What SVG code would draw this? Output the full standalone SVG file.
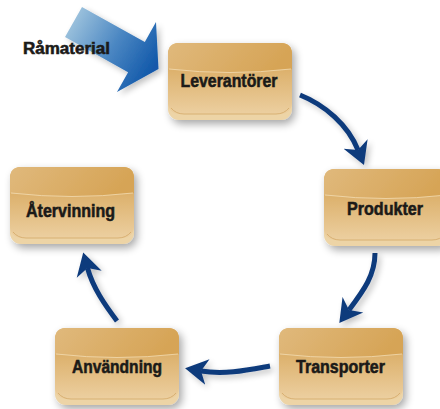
<svg xmlns="http://www.w3.org/2000/svg" width="440" height="409" viewBox="0 0 440 409">
<defs>
<style>
.lbl{font-family:"Liberation Sans","Arial",sans-serif;font-weight:bold;fill:#1b1a18;stroke:#1b1a18;stroke-width:0.55;text-anchor:middle}
.conn{fill:none;stroke:#0f3a7c;stroke-width:5;stroke-linecap:butt}
.rim{fill:#edd4a6}
.face{fill:url(#faceG)}
.gloss{fill:url(#glossG)}
.wave{fill:none;stroke:#f2dcb2;stroke-width:0.8}
.edge{fill:none;stroke:#d3a867;stroke-width:0.8}
</style>
<linearGradient id="faceG" x1="0" y1="0" x2="0" y2="1">
<stop offset="0" stop-color="#d9aa62"/>
<stop offset="0.4" stop-color="#ddb26e"/>
<stop offset="1" stop-color="#eccfa0"/>
</linearGradient>
<linearGradient id="glossG" x1="0" y1="0" x2="1" y2="0.2">
<stop offset="0" stop-color="#e0b97c"/>
<stop offset="1" stop-color="#d6a456"/>
</linearGradient>
<linearGradient id="blueG" gradientUnits="userSpaceOnUse" x1="70" y1="15" x2="155" y2="65">
<stop offset="0" stop-color="#a3c7df"/>
<stop offset="0.55" stop-color="#4a86c2"/>
<stop offset="1" stop-color="#1259aa"/>
</linearGradient>
<filter id="sh" x="-30%" y="-30%" width="160%" height="170%">
<feGaussianBlur in="SourceAlpha" stdDeviation="4"/>
<feOffset dx="3" dy="4" result="b"/>
<feComponentTransfer><feFuncA type="linear" slope="0.35"/></feComponentTransfer>
<feMerge><feMergeNode/><feMergeNode in="SourceGraphic"/></feMerge>
</filter>
<filter id="shA" x="-30%" y="-30%" width="160%" height="160%">
<feGaussianBlur in="SourceAlpha" stdDeviation="3"/>
<feOffset dx="3" dy="3" result="b"/>
<feComponentTransfer><feFuncA type="linear" slope="0.25"/></feComponentTransfer>
<feMerge><feMergeNode/><feMergeNode in="SourceGraphic"/></feMerge>
</filter>
<marker id="ah" markerUnits="userSpaceOnUse" markerWidth="24" markerHeight="28" viewBox="0 -13 22 26" refX="6" refY="0" orient="auto">
<path d="M0,-12 L21,0 L0,12 L6,0 Z" fill="#0f3a7c"/>
</marker>
<g id="box">
<rect class="rim" x="0" y="0" width="124" height="77" rx="11"/>
<rect class="face" x="0" y="0" width="124" height="71" rx="11"/>
<path class="edge" d="M3,65 Q8,71 16,71 L108,71 Q116,71 121,65"/>
<path class="gloss" d="M11,0 L113,0 Q124,0 124,11 L124,26 Q62,33 0,26 L0,11 Q0,0 11,0 Z"/>
<path class="wave" d="M1,26 Q62,33 123,26"/>
</g>
</defs>
<rect width="440" height="409" fill="#ffffff"/>

<g id="input-arrow" filter="url(#shA)">
<polygon points="82,7 144.8,42 156,22 158.5,69 117,92 128.1,72.2 65,37" fill="url(#blueG)"/>
</g>
<text class="lbl" x="66.5" y="53.5" font-size="16" textLength="87" lengthAdjust="spacingAndGlyphs">Råmaterial</text>

<g id="connectors" filter="url(#shA)">
<path class="conn" d="M300,95 C325,105 348,125 358,150" marker-end="url(#ah)"/>
<path class="conn" d="M375,253 C375,275 364,290 349,310" marker-end="url(#ah)"/>
<path class="conn" d="M270,366 C248,370 225,375 201,371" marker-end="url(#ah)"/>
<path class="conn" d="M117,321 C105,305 93,288 87.5,268" marker-end="url(#ah)"/>
</g>

<g id="leverantorer">
<g filter="url(#sh)"><use href="#box" transform="translate(168,43)"/></g>
<text class="lbl" x="229" y="87" font-size="18" textLength="97" lengthAdjust="spacingAndGlyphs">Leverantörer</text>
</g>
<g id="produkter">
<g filter="url(#sh)"><use href="#box" transform="translate(324,169)"/></g>
<text class="lbl" x="385" y="215" font-size="18" textLength="76" lengthAdjust="spacingAndGlyphs">Produkter</text>
</g>
<g id="transporter">
<g filter="url(#sh)"><use href="#box" transform="translate(279,328)"/></g>
<text class="lbl" x="340.5" y="373" font-size="18" textLength="89" lengthAdjust="spacingAndGlyphs">Transporter</text>
</g>
<g id="anvandning">
<g filter="url(#sh)"><use href="#box" transform="translate(55,328)"/></g>
<text class="lbl" x="117" y="373" font-size="18" textLength="90" lengthAdjust="spacingAndGlyphs">Användning</text>
</g>
<g id="atervinning">
<g filter="url(#sh)"><use href="#box" transform="translate(10,167)"/></g>
<text class="lbl" x="70.5" y="217" font-size="18" textLength="89" lengthAdjust="spacingAndGlyphs">Återvinning</text>
</g>
</svg>
